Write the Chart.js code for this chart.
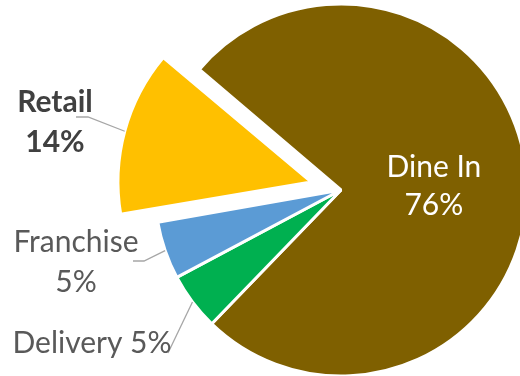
<!DOCTYPE html>
<html lang="en">
<head>
<meta charset="UTF-8">
<title>Sales by Channel</title>
<script src="https://cdn.jsdelivr.net/npm/chart.js@4.4.1/dist/chart.umd.min.js"></script>
<style>
  html, body { margin: 0; padding: 0; background: #fff; overflow: hidden; width: 520px; height: 376px; }
  #wrap { position: absolute; left: 0; top: 0; }
</style>
</head>
<body>
<div id="wrap"><canvas id="pie" width="682" height="380"></canvas></div>
<script>
// slices go clockwise from the upper-left edge of Dine In
const categories = ['Dine In', 'Delivery', 'Franchise', 'Retail'];
const shares = [76, 5, 5, 14];

const sliceColors = ['#7F6000', '#00B050', '#5B9BD5', '#FFC000'];
// Chart.js moves an arc by offset / 4
const pullOut = [0, 0, 0, 124];

// where each label sits; leader lines run from the tail points to the slice edge
const labelLayout = [
  { inside: true, color: '#FFFFFF', weight: 'normal' },
  { oneLine: true, x: 92, y: 353, tail: [[168, 353]], color: '#595959', weight: 'normal' },
  { x: 76, y: 252, tail: [[133, 261], [144, 261]], color: '#595959', weight: 'normal' },
  { x: 55, y: 112, tail: [[76, 117], [88, 117]], color: '#404040', weight: 'bold' }
];

const FONT = 'Lato, "Noto Sans", sans-serif';
const LINE_GAP = 38;

const sliceLabels = {
  id: 'sliceLabels',
  afterDatasetsDraw(chart) {
    const ctx = chart.ctx;
    const meta = chart.getDatasetMeta(0);
    ctx.save();
    meta.data.forEach((arc, i) => {
      const p = arc.getProps(['x', 'y', 'startAngle', 'endAngle', 'outerRadius', 'circumference'], true);
      const mid = (p.startAngle + p.endAngle) / 2;
      const lay = labelLayout[i];
      const pct = shares[i] + '%';
      ctx.font = lay.weight + ' 30px ' + FONT;
      ctx.fillStyle = lay.color;
      ctx.textAlign = 'center';
      ctx.textBaseline = 'alphabetic';

      if (lay.inside) {
        const cx = p.x + Math.cos(mid) * p.outerRadius * 0.5;
        const cy = p.y + Math.sin(mid) * p.outerRadius * 0.5;
        const base = cy - LINE_GAP / 2 + 10.5;
        ctx.fillText(categories[i], cx, base);
        ctx.fillText(pct, cx, base + LINE_GAP);
        return;
      }

      // leader line, ending on the (possibly pulled out) outer edge
      const shift = pullOut[i] / 4;
      const grow = shift * (1 - Math.sin(Math.min(Math.PI, p.circumference)));
      const reach = p.outerRadius + shift + grow;
      const ex = p.x + Math.cos(mid) * reach;
      const ey = p.y + Math.sin(mid) * reach;
      ctx.beginPath();
      ctx.strokeStyle = '#A6A6A6';
      ctx.lineWidth = 1.3;
      ctx.moveTo(lay.tail[0][0], lay.tail[0][1]);
      lay.tail.slice(1).forEach(pt => ctx.lineTo(pt[0], pt[1]));
      ctx.lineTo(ex, ey);
      ctx.stroke();

      if (lay.oneLine) {
        ctx.fillText(categories[i] + ' ' + pct, lay.x, lay.y);
      } else {
        ctx.fillText(categories[i], lay.x, lay.y);
        ctx.fillText(pct, lay.x, lay.y + LINE_GAP + 2);
      }
    });
    ctx.restore();
  }
};

new Chart(document.getElementById('pie'), {
  type: 'pie',
  data: {
    labels: categories,
    datasets: [{
      data: shares,
      backgroundColor: sliceColors,
      borderColor: '#FFFFFF',
      borderWidth: 3,
      offset: pullOut
    }]
  },
  options: {
    responsive: false,
    animation: false,
    rotation: -49.6,
    radius: 186,
    layout: { padding: 0 },
    plugins: {
      legend: { display: false },
      tooltip: { enabled: false }
    }
  },
  plugins: [sliceLabels]
});
</script>
</body>
</html>
